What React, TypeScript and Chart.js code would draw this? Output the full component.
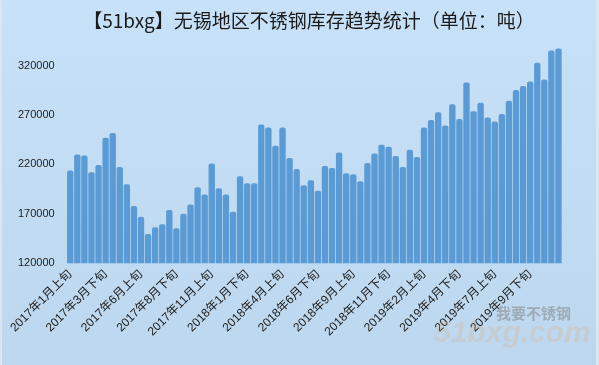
import React, { useEffect, useRef } from "react";
import { Chart, registerables } from "chart.js";

Chart.register(...registerables);

const titleText = "【51bxg】无锡地区不锈钢库存趋势统计（单位：吨）";

const periodLabels = [
  "2017年1月上旬", "2017年1月下旬", "2017年2月上旬", "2017年2月下旬", "2017年3月上旬", "2017年3月下旬",
  "2017年4月上旬", "2017年4月下旬", "2017年5月上旬", "2017年5月下旬", "2017年6月上旬", "2017年6月下旬",
  "2017年7月上旬", "2017年7月下旬", "2017年8月上旬", "2017年8月下旬", "2017年9月上旬", "2017年9月下旬",
  "2017年10月上旬", "2017年10月下旬", "2017年11月上旬", "2017年11月下旬", "2017年12月上旬", "2017年12月下旬",
  "2018年1月上旬", "2018年1月下旬", "2018年2月上旬", "2018年2月下旬", "2018年3月上旬", "2018年3月下旬",
  "2018年4月上旬", "2018年4月下旬", "2018年5月上旬", "2018年5月下旬", "2018年6月上旬", "2018年6月下旬",
  "2018年7月上旬", "2018年7月下旬", "2018年8月上旬", "2018年8月下旬", "2018年9月上旬", "2018年9月下旬",
  "2018年10月上旬", "2018年10月下旬", "2018年11月上旬", "2018年11月下旬", "2018年12月上旬", "2018年12月下旬",
  "2019年1月上旬", "2019年1月下旬", "2019年2月上旬", "2019年2月下旬", "2019年3月上旬", "2019年3月下旬",
  "2019年4月上旬", "2019年4月下旬", "2019年5月上旬", "2019年5月下旬", "2019年6月上旬", "2019年6月下旬",
  "2019年7月上旬", "2019年7月下旬", "2019年8月上旬", "2019年8月下旬", "2019年9月上旬", "2019年9月下旬",
  "2019年10月上旬", "2019年10月下旬", "2019年11月上旬", "2019年11月下旬",
];

const inventory = [
  214000, 230000, 229000, 212000, 219500, 247000, 252000, 217500, 200000, 178000,
  167000, 149500, 156500, 159500, 174000, 155500, 170000, 179500, 197000, 189500,
  221000, 196000, 189500, 172000, 208000, 201000, 201000, 260500, 257500, 239000,
  257500, 226500, 215500, 199000, 204000, 193500, 218500, 216500, 232000, 211000,
  210000, 203000, 221500, 231000, 240000, 238000, 228500, 217500, 235000, 227500,
  257500, 265000, 273000, 259500, 281000, 266000, 303000, 274000, 282500, 267500,
  263500, 271000, 284500, 295500, 299500, 304000, 323000, 306000, 335500, 337500,
];

const yTicks = [120000, 170000, 220000, 270000, 320000];
const labelEvery = 5;
const watermarkCn = "我要不锈钢";
const watermarkEn = "51bxg.com";

const backgroundPlugin = {
  id: "bgFill",
  beforeDraw(chart: any) {
    const { ctx, width, height } = chart;
    ctx.save();
    const g = ctx.createLinearGradient(0, 0, 0, height);
    g.addColorStop(0, "#c7e2f8");
    g.addColorStop(1, "#bdd8ee");
    ctx.fillStyle = g;
    ctx.fillRect(0, 0, width, height);
    ctx.fillStyle = "#dde6ee";
    ctx.fillRect(0, 0, 2, height);
    ctx.fillRect(width - 3, 0, 3, height);
    ctx.fillStyle = "#1a1a1a";
    ctx.font = "19px 'Noto Sans CJK SC'";
    ctx.textAlign = "center";
    ctx.textBaseline = "middle";
    ctx.fillText(titleText, 309, 21);
    ctx.restore();
  },
};

const watermarkPlugin = {
  id: "watermark",
  afterDraw(chart: any) {
    const { ctx } = chart;
    ctx.save();
    ctx.globalAlpha = 0.5;
    ctx.fillStyle = "#7d7d7d";
    ctx.font = "bold 15px 'Noto Sans CJK SC'";
    ctx.textAlign = "left";
    ctx.textBaseline = "middle";
    ctx.fillText(watermarkCn, 496, 313);
    ctx.globalAlpha = 0.2;
    ctx.fillStyle = "#e39a5e";
    ctx.font = "italic bold 30px 'Liberation Sans'";
    ctx.fillText(watermarkEn, 434, 334);
    ctx.restore();
  },
};

export default function App() {
  const ref = useRef<HTMLCanvasElement>(null);

  useEffect(() => {
    if (!ref.current) return;
    const chart = new Chart(ref.current, {
      type: "bar",
      data: {
        labels: periodLabels,
        datasets: [
          {
            label: "库存",
            data: inventory,
            backgroundColor: "#5b9bd5",
            borderWidth: 0,
            borderRadius: { topLeft: 2, topRight: 2, bottomLeft: 0, bottomRight: 0 },
            borderSkipped: "bottom",
            barPercentage: 0.9,
            categoryPercentage: 1.0,
          },
        ],
      },
      options: {
        responsive: false,
        animation: false,
        devicePixelRatio: 1,
        layout: { padding: { left: 6, right: 37, top: 46, bottom: 22 } },
        plugins: {
          legend: { display: false },
          tooltip: { enabled: false },
          title: { display: false },
        },
        scales: {
          x: {
            grid: { display: false, drawTicks: false, tickLength: 0 },
            border: { display: false },
            afterFit: (scale: any) => {
              scale.paddingLeft = 0;
              scale.paddingRight = 0;
            },
            ticks: {
              autoSkip: false,
              minRotation: 45,
              maxRotation: 45,
              padding: 4,
              color: "#222",
              font: { family: "'Liberation Sans', 'Noto Sans CJK SC'", size: 12 },
              callback: (_v: any, i: number) => (i % labelEvery === 0 ? periodLabels[i] : ""),
            },
          },
          y: {
            min: 120000,
            max: 340000,
            grid: { display: false, drawTicks: false, tickLength: 0 },
            border: { display: false },
            afterBuildTicks: (scale: any) => {
              scale.ticks = yTicks.map((v) => ({ value: v }));
            },
            ticks: {
              padding: 12,
              color: "#222",
              font: { family: "'Liberation Sans'", size: 11 },
              callback: (v: any) => String(v),
            },
          },
        },
      },
      plugins: [backgroundPlugin, watermarkPlugin],
    });
    return () => chart.destroy();
  }, []);

  return (
    <div style={{ position: "absolute", left: 0, top: 0, width: 599, height: 365 }}>
      <canvas ref={ref} width={599} height={365} style={{ display: "block" }} />
    </div>
  );
}
